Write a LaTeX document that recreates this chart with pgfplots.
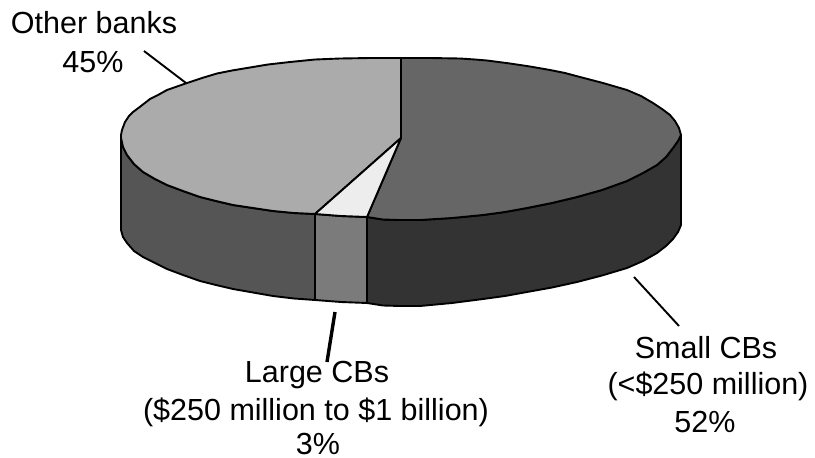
\documentclass[border=0pt]{standalone}
\usepackage{fontspec}
\setmainfont{Liberation Sans}
\usepackage{pgfplots}
\pgfplotsset{compat=1.18}
\definecolor{otherTop}{HTML}{ABABAB}
\definecolor{otherSide}{HTML}{555555}
\definecolor{smallTop}{HTML}{666666}
\definecolor{smallSide}{HTML}{333333}
\definecolor{largeTop}{HTML}{EDEDED}
\definecolor{largeSide}{HTML}{7B7B7B}
\tikzset{
  slice/.style={draw=black, line width=1.9pt, line join=round, mark=none},
  lab/.style={font=\fontsize{30.5}{36}\selectfont, anchor=base, inner sep=0pt},
}
\begin{document}
\begin{tikzpicture}
\path[use as bounding box] (0,0) rectangle (815pt,458pt);
\begin{axis}[
  anchor=south west, at={(0,0)},
  scale only axis, width=815pt, height=458pt,
  xmin=0, xmax=815, ymin=0, ymax=458, y dir=reverse,
  hide axis, clip=false,
]
% Side walls of the disc
\addplot[slice, fill=otherSide] coordinates {
  (121,135)(121,138)(123,147)(127,155)(134,164)(143,172)(155,179)(167,185)(183,191)(200,197)
  (216,201)(233,205)(253,208)(273,211)(294,213)(315,214)
  (315,300)(294,298.5)(273,296)(253,292.5)(233,289)(216,285)(200,281)(183,275)(167,269)
  (155,263)(143,257)(134,251)(127,243)(123,237)(121,230)
} -- cycle;
\addplot[slice, fill=largeSide] coordinates {
  (315,214)(341,216)(367,217)(367,303)(341,302)(315,300)
} -- cycle;
\addplot[slice, fill=smallSide] coordinates {
  (367,217)(383,219.5)(400,220)(420,220)(452,218)(483,215)(505,212)(527,208)(552,203)(577,197)
  (602,190)(627,181)(643,173)(657,165)(666,157)(673,148)(678,141)(681,135)
  (681,225)(678,232)(673,239)(666,246)(657,253)(643,261)(627,268)(602,275.5)(577,282)(552,287.5)
  (527,292)(505,296)(483,299)(452,303)(420,306)(400,306)(383,305.5)(367,303)
} -- cycle;
% Top face
\addplot[slice, fill=otherTop] coordinates {
  (401,138)(315,214)(294,213)(273,211)(253,208)(233,205)(216,201)(200,197)(183,191)(167,185)
  (155,179)(143,172)(134,164)(127,155)(123,147)(121,138)(121,135)
  (122,130)(125,122)(129,116)(133,112)(141,106)(150,99)(158,95)(167,90)(177,86.5)(187,83)
  (202,78)(217,73.5)(232,70.5)(247,68)(268,64.5)(290,62)(315,59.5)(340,58.5)(370,58)(401,58)
} -- cycle;
\addplot[slice, fill=smallTop] coordinates {
  (401,58)(430,58)(460,58.5)(475,59.5)(487,60.5)(510,63.5)(530,66.5)(550,70)(565,73)(580,77)
  (603,83)(627,90)(641,96)(653,103)(662,109)(670,115)(675,121)(679,128)(681,135)
  (678,141)(673,148)(666,157)(657,165)(643,173)(627,181)(602,190)(577,197)(552,203)(527,208)
  (505,212)(483,215)(452,218)(420,220)(400,220)(383,219.5)(367,217)(401,138)
} -- cycle;
\addplot[slice, fill=largeTop] coordinates {
  (401,138)(367,217)(341,216)(315,214)
} -- cycle;
% Leader lines
\addplot[draw=black, line width=1.9pt, mark=none] coordinates {(144,51)(186,83)};
\addplot[draw=black, line width=1.9pt, mark=none] coordinates {(634,277)(679,326)};
\addplot[draw=black, line width=3.4pt, mark=none] coordinates {(335,312)(327,362)};
% Category labels
\node[lab] at (axis cs:94,33) {Other banks};
\node[lab] at (axis cs:93,72) {45\%};
\node[lab] at (axis cs:317,382) {Large CBs};
\node[lab] at (axis cs:316,420) {(\$250 million to \$1 billion)};
\node[lab] at (axis cs:318,454) {3\%};
\node[lab] at (axis cs:706,358) {Small CBs};
\node[lab] at (axis cs:708,394) {(<\$250 million)};
\node[lab] at (axis cs:705,432) {52\%};
\end{axis}
\end{tikzpicture}
\end{document}
